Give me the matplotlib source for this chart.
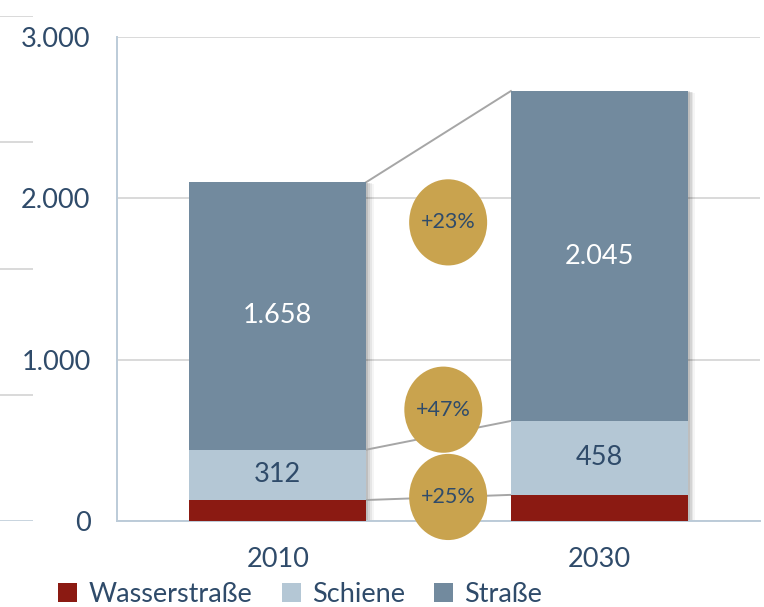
import matplotlib
matplotlib.use("Agg")
import matplotlib.pyplot as plt
from matplotlib.patches import Ellipse
import numpy as np

plt.rcParams['font.family'] = ['Lato', 'DejaVu Sans']

years = ["2010", "2030"]
series_names = ["Wasserstraße", "Schiene", "Straße"]
wasser = [130, 162]
schiene = [312, 458]
strasse = [1658, 2045]
growth_labels = ["+25%", "+47%", "+23%"]
yticks = [0, 1000, 2000, 3000]
ytick_labels = ["0", "1.000", "2.000", "3.000"]

colors = ["#8B1A12", "#B4C7D5", "#728A9E"]
gold = "#C9A34E"
txt = "#2F4B6A"

W, H = 764, 607
fig = plt.figure(figsize=(W / 100, H / 100), dpi=100)
ax = fig.add_axes([117 / W, (H - 521) / H, (760 - 117) / W, (521 - 37) / H])

x = np.arange(len(years))
bw = 0.55
data = [wasser, schiene, strasse]
totals = np.sum(np.array(data, dtype=float), axis=0)

# soft shadow behind each whole bar
for k, a in enumerate([0.10, 0.08, 0.06, 0.04]):
    off = (k + 1) * 0.006
    ax.bar(x + off, totals - off * 400, bw, color="black", alpha=a, zorder=2, lw=0)

bottom = np.zeros(len(years))
tops = []
for vals, col, name in zip(data, colors, series_names):
    vals = np.array(vals, dtype=float)
    ax.bar(x, vals, bw, bottom=bottom, color=col, label=name, zorder=3, lw=0)
    bottom = bottom + vals
    tops.append(bottom.copy())

# segment labels
for i in range(len(years)):
    sc_mid = wasser[i] + schiene[i] / 2
    st_mid = wasser[i] + schiene[i] + strasse[i] / 2
    ax.text(x[i], sc_mid, f"{schiene[i]}", ha="center", va="center", fontsize=19.5, color=txt, zorder=5)
    ax.text(x[i], st_mid, f"{strasse[i]:,}".replace(",", "."), ha="center", va="center",
            fontsize=19.5, color="white", zorder=5)

# connectors
for t in tops:
    ax.plot([x[0] + bw / 2, x[1] - bw / 2], [t[0], t[1]], color="#A6A6A6", lw=1.4, zorder=2.5)

# growth bubbles
bubble_y = [149, 690, 1851]
bubble_x = [0.53, 0.515, 0.53]
for bx, by, lab in zip(bubble_x, bubble_y, growth_labels):
    e = Ellipse((bx, by), width=78 / 321.5, height=86 / 161 * 1000,
                facecolor=gold, edgecolor="none", zorder=6, clip_on=False)
    ax.add_patch(e)
    ax.text(bx, by, lab, ha="center", va="center", fontsize=15.5, color=txt, zorder=7)

ax.set_xlim(-0.5, 1.5)
ax.set_ylim(0, 3000)
ax.set_yticks(yticks)
ax.set_yticklabels(ytick_labels)
ax.set_xticks(x)
ax.set_xticklabels(years)
ax.tick_params(axis="both", length=0, labelsize=19.5, labelcolor=txt)
ax.tick_params(axis="y", pad=19)
ax.tick_params(axis="x", pad=19)
ax.yaxis.grid(True, color="#D9D9D9", lw=1.4, zorder=0)
ax.set_axisbelow(True)
for s in ["top", "right"]:
    ax.spines[s].set_visible(False)
for s in ["left", "bottom"]:
    ax.spines[s].set_color("#BCCBD8")
    ax.spines[s].set_linewidth(1.4)

# decorative partial gridlines at far left
ax2 = fig.add_axes([0, (H - 521) / H, 33 / W, (521 - 16) / H])
ax2.set_xlim(0, 1)
ax2.set_ylim(0, 4)
for lv in range(5):
    ax2.axhline(lv, color="#D9D9D9" if lv else "#C8D4DF", lw=1.4)
ax2.axis("off")

leg = fig.legend(loc="center", bbox_to_anchor=(0.393, 0.021), ncol=3, frameon=False,
                 fontsize=19.5, handlelength=0.7, handleheight=0.7, handletextpad=0.4,
                 columnspacing=1.1, labelcolor=txt, borderpad=0.1)

fig.savefig("out.png", dpi=100)
